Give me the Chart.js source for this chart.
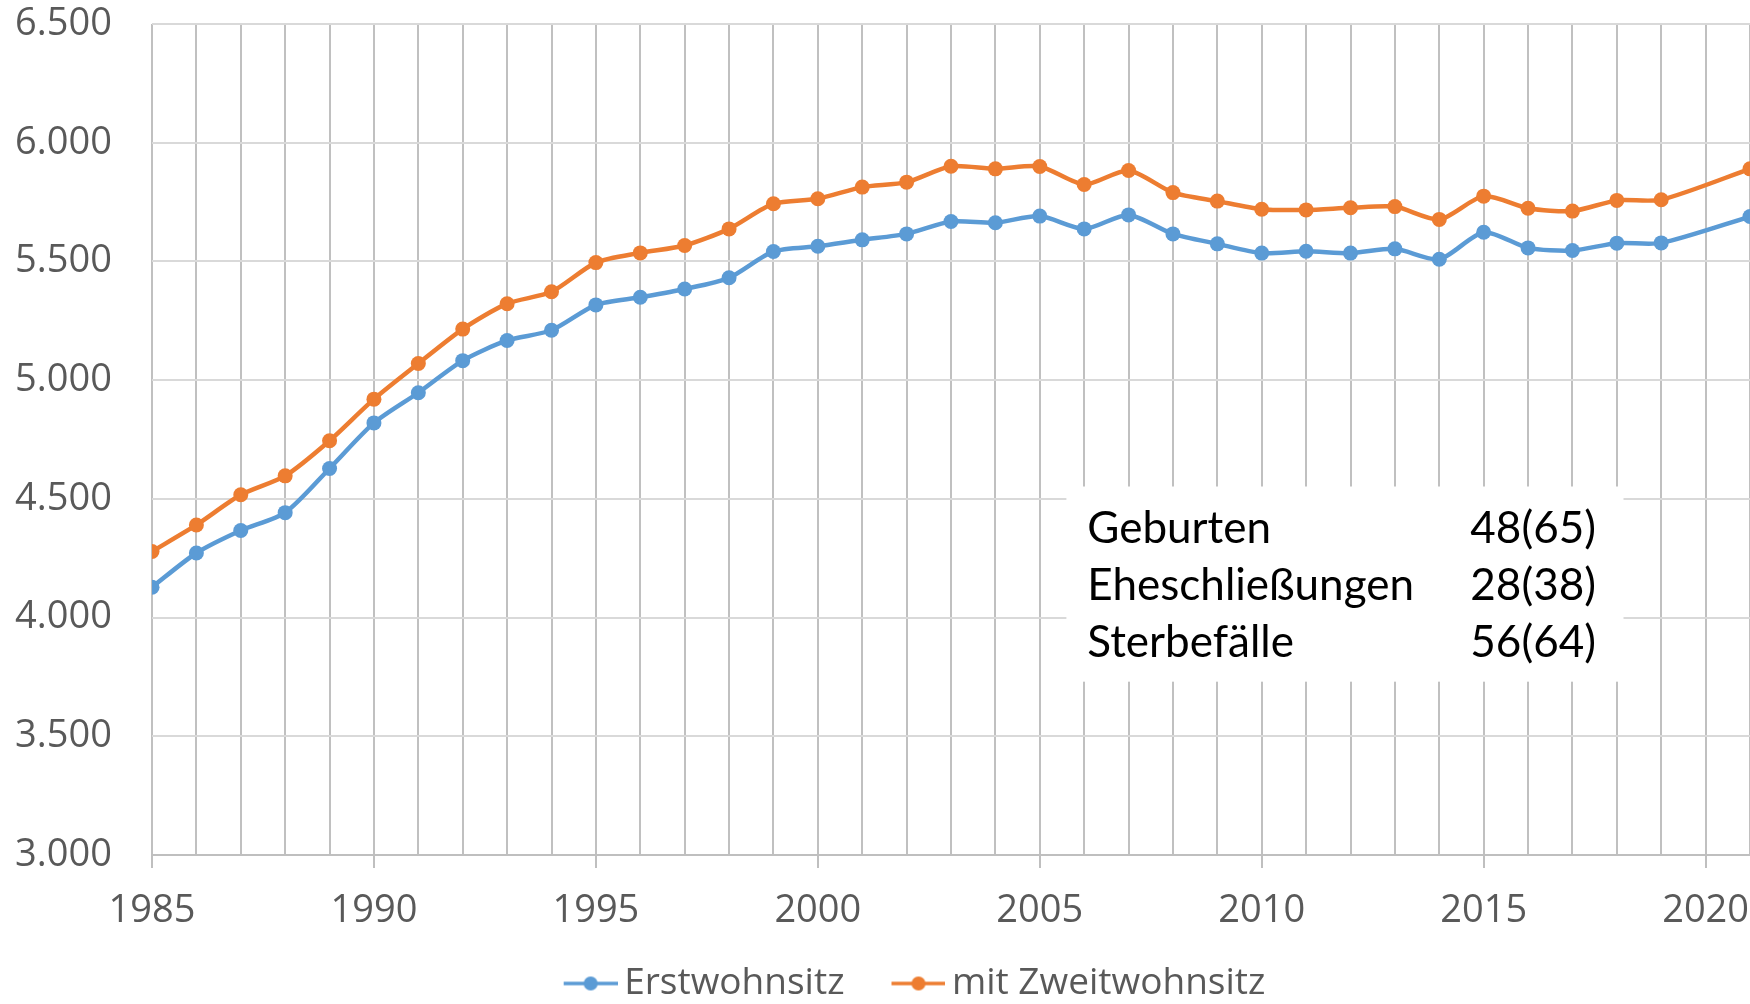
<!DOCTYPE html>
<html>
<head>
<meta charset="utf-8">
<script src="https://cdn.jsdelivr.net/npm/chart.js@4.4.1/dist/chart.umd.min.js"></script>
<style>
  html, body { margin: 0; padding: 0; background: #fff; }
</style>
</head>
<body>
<canvas id="popChart" width="1750" height="1004"></canvas>
<script>
// years with a data point (no value for 2020)
const years = [1985, 1986, 1987, 1988, 1989, 1990, 1991, 1992, 1993, 1994,
  1995, 1996, 1997, 1998, 1999, 2000, 2001, 2002, 2003, 2004,
  2005, 2006, 2007, 2008, 2009, 2010, 2011, 2012, 2013, 2014,
  2015, 2016, 2017, 2018, 2019, 2021];

const erstwohnsitz = [4128, 4272, 4367, 4442, 4628, 4820, 4947, 5082, 5167, 5210,
  5317, 5349, 5384, 5431, 5542, 5564, 5591, 5616, 5668, 5663,
  5691, 5637, 5696, 5616, 5574, 5535, 5543, 5535, 5553, 5509,
  5623, 5557, 5546, 5577, 5578, 5689];

const zweitwohnsitz = [4278, 4390, 4517, 4597, 4745, 4920, 5070, 5215, 5322, 5372,
  5495, 5536, 5567, 5637, 5743, 5764, 5813, 5834, 5901, 5890,
  5900, 5824, 5883, 5790, 5754, 5720, 5717, 5726, 5731, 5677,
  5775, 5724, 5712, 5757, 5760, 5890];

const seriesNames = ["Erstwohnsitz", "mit Zweitwohnsitz"];
const seriesColors = ["#5B9BD5", "#ED7D31"];

const boxLabels = ["Geburten", "Eheschließungen", "Sterbefälle"];
const boxValues = ["48(65)", "28(38)", "56(64)"];

const tickFont = '"Open Sans", "Noto Sans", sans-serif';
const boxFont = 'Lato, "Open Sans", sans-serif';

function formatDE(v) {
  return String(v).replace(/\B(?=(\d{3})+(?!\d))/g, ".");
}

// legend symbol: short line with a dot in the middle
// (transparent strip on the left adds space between the two legend items)
const symbolGap = 19;
function legendSymbol(color) {
  const c = document.createElement("canvas");
  c.width = 54 + symbolGap;
  c.height = 16;
  const g = c.getContext("2d");
  g.strokeStyle = color;
  g.lineWidth = 3.5;
  g.beginPath();
  g.moveTo(symbolGap, 8);
  g.lineTo(symbolGap + 54, 8);
  g.stroke();
  g.fillStyle = color;
  g.beginPath();
  g.arc(symbolGap + 27, 8, 7, 0, Math.PI * 2);
  g.fill();
  return c;
}

// white text box with the yearly figures
const statsBox = {
  id: "statsBox",
  beforeDatasetsDraw(chart) {
    const { ctx } = chart;
    const x = chart.scales.x;
    const y = chart.scales.y;
    const left = x.getPixelForValue(2005.6);
    const right = x.getPixelForValue(2018.15);
    const top = y.getPixelForValue(4552);
    const bottom = y.getPixelForValue(3730);
    ctx.save();
    ctx.fillStyle = "#ffffff";
    ctx.fillRect(left, top, right - left, bottom - top);
    ctx.fillStyle = "#000000";
    ctx.font = "44px " + boxFont;
    ctx.textBaseline = "alphabetic";
    ctx.textAlign = "left";
    const labelX = x.getPixelForValue(2006.07);
    const valueX = x.getPixelForValue(2014.7);
    boxLabels.forEach((t, i) => {
      const by = top + 56 + i * 57;
      ctx.fillText(t, labelX, by);
      ctx.fillText(boxValues[i], valueX, by);
    });
    ctx.restore();
  },
};

// legend sits a bit right of the canvas centre
const legendShift = {
  id: "legendShift",
  afterLayout(chart) {
    const lg = chart.legend;
    if (lg) {
      lg.left += 36;
      lg.right += 36;
    }
  },
};

function draw() {
  const ctx = document.getElementById("popChart").getContext("2d");

  const data = {
    datasets: [
      {
        label: seriesNames[0],
        data: years.map((yr, i) => ({ x: yr, y: erstwohnsitz[i] })),
        borderColor: seriesColors[0],
        backgroundColor: seriesColors[0],
        borderWidth: 4.5,
        pointRadius: 7.5,
        pointHoverRadius: 7.5,
        pointBorderWidth: 0,
        tension: 0.25,
      },
      {
        label: seriesNames[1],
        data: years.map((yr, i) => ({ x: yr, y: zweitwohnsitz[i] })),
        borderColor: seriesColors[1],
        backgroundColor: seriesColors[1],
        borderWidth: 4.5,
        pointRadius: 7.5,
        pointHoverRadius: 7.5,
        pointBorderWidth: 0,
        tension: 0.25,
      },
    ],
  };

  const options = {
    responsive: false,
    animation: false,
    devicePixelRatio: 1,
    layout: { autoPadding: false, padding: { top: 24, left: 0, right: 0, bottom: -8 } },
    scales: {
      x: {
        type: "linear",
        min: 1985,
        max: 2021,
        border: { display: true, color: "#bfbfbf", width: 2 },
        grid: {
          color: "#c0c0c0",
          lineWidth: 2,
          tickLength: 13,
          tickColor: (c) => (c.tick && c.tick.value % 5 === 0 ? "#bfbfbf" : "rgba(0,0,0,0)"),
          tickWidth: 2,
        },
        ticks: {
          stepSize: 1,
          autoSkip: false,
          maxRotation: 0,
          minRotation: 0,
          padding: 20,
          color: "#595959",
          font: { family: tickFont, size: 38 },
          callback: (v) => (v % 5 === 0 ? String(v) : ""),
        },
        afterFit: (s) => {
          s.paddingLeft = 0;
          s.paddingRight = 0;
          s.height = 70;
        },
      },
      y: {
        min: 3000,
        max: 6500,
        border: { display: false },
        grid: { color: "#d9d9d9", lineWidth: 2, drawTicks: false },
        ticks: {
          stepSize: 500,
          padding: 40,
          color: "#595959",
          font: { family: tickFont, size: 38 },
          callback: (v) => formatDE(v),
        },
        afterFit: (s) => {
          s.width = 152;
          s.paddingTop = 0;
          s.paddingBottom = 0;
        },
      },
    },
    plugins: {
      legend: {
        display: true,
        position: "bottom",
        labels: {
          usePointStyle: true,
          pointStyleWidth: 30 + symbolGap,
          padding: 40,
          color: "#595959",
          font: { family: tickFont, size: 37 },
          generateLabels: (chart) => {
            const items = Chart.defaults.plugins.legend.labels.generateLabels(chart);
            items.forEach((it, i) => {
              it.pointStyle = legendSymbol(seriesColors[i]);
            });
            return items;
          },
        },
      },
      tooltip: { enabled: false },
    },
  };

  new Chart(ctx, {
    type: "line",
    data: data,
    options: options,
    plugins: [statsBox, legendShift],
  });
}

Promise.all([
  document.fonts.load('38px "Open Sans"'),
  document.fonts.load("44px Lato"),
]).then(draw, draw);
</script>
</body>
</html>
